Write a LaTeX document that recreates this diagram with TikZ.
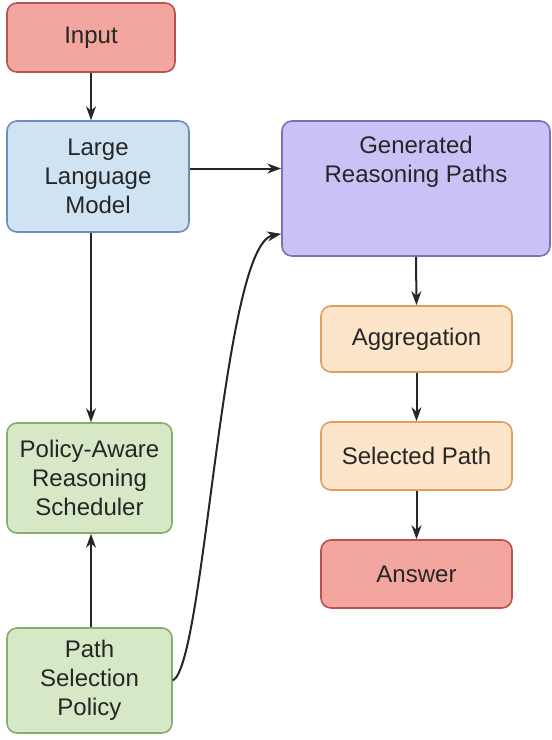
\documentclass[tikz,border=0pt]{standalone}
\usepackage{fontspec}
\setmainfont{Liberation Sans}
\usetikzlibrary{arrows.meta}

\definecolor{redfill}{HTML}{F3A5A0}
\definecolor{redline}{HTML}{B85450}
\definecolor{bluefill}{HTML}{CFE3F3}
\definecolor{blueline}{HTML}{6C8EBF}
\definecolor{purplefill}{HTML}{C9C2F6}
\definecolor{purpleline}{HTML}{7A70B6}
\definecolor{orangefill}{HTML}{FDE5C9}
\definecolor{orangeline}{HTML}{DDA062}
\definecolor{greenfill}{HTML}{D6E8C6}
\definecolor{greenline}{HTML}{86AE6C}

\begin{document}
\begin{tikzpicture}[x=0.5pt,y=-0.5pt,
  main_node/.style={rectangle,draw,rounded corners=5pt,line width=0.8pt,align=center,
    font=\fontsize{12}{14.5}\selectfont,text=black!85,inner sep=2pt},
  red_node/.style={main_node,fill=redfill,draw=redline},
  blue_node/.style={main_node,fill=bluefill,draw=blueline},
  purple_node/.style={main_node,fill=purplefill,draw=purpleline},
  orange_node/.style={main_node,fill=orangefill,draw=orangeline},
  green_node/.style={main_node,fill=greenfill,draw=greenline},
  flow_arrow/.style={-{Stealth[length=7pt,width=5pt]},line width=1pt,black!85}]
  \useasboundingbox (0,0) rectangle (552,740);
  \node[red_node,minimum width=84pt,minimum height=34.5pt] (input) at (91,37.5) {Input};
  \node[blue_node,minimum width=91pt,minimum height=55.5pt] (llm) at (98,176.5) {Large\\Language\\Model};
  \node[purple_node,minimum width=134pt,minimum height=67.5pt,
    label={[anchor=north,align=center,font=\fontsize{12}{14.5}\selectfont,text=black!85,yshift=-4.5pt]north:Generated\\Reasoning Paths}] (paths) at (416,188.5) {};
  \node[orange_node,minimum width=95.5pt,minimum height=33pt] (agg) at (416.5,339) {Aggregation};
  \node[orange_node,minimum width=95.5pt,minimum height=34pt] (sel) at (416.5,456) {Selected Path};
  \node[red_node,minimum width=95.5pt,minimum height=34pt] (answer) at (416.5,574) {Answer};
  \node[green_node,minimum width=82.5pt,minimum height=55pt] (sched) at (89.5,478) {Policy-Aware\\Reasoning\\Scheduler};
  \node[green_node,minimum width=82.5pt,minimum height=52.5pt] (policy) at (89.5,680.5) {Path\\Selection\\Policy};
  \coordinate (llm_out) at (llm.south -| input.south);
  \coordinate (sched_in) at (sched.north -| input.south);
  \coordinate (curve_end) at ([yshift=11.5pt]paths.south west);
\draw[flow_arrow] (input.south) -- (input.south |- llm.north);
\draw[flow_arrow] (llm_out) -- (sched_in);
\draw[flow_arrow] ([yshift=4pt]llm.east) -- ([yshift=4pt]llm.east -| paths.west);
\draw[flow_arrow] (policy.north -| input.south) -- (sched.south -| input.south);
\draw[flow_arrow] (policy.east) .. controls (205,665) and (222,245) .. (curve_end);
\draw[flow_arrow] (paths.south) -- (agg.north);
\draw[flow_arrow] (agg.south) -- (sel.north);
\draw[flow_arrow] (sel.south) -- (answer.north);
\end{tikzpicture}
\end{document}
